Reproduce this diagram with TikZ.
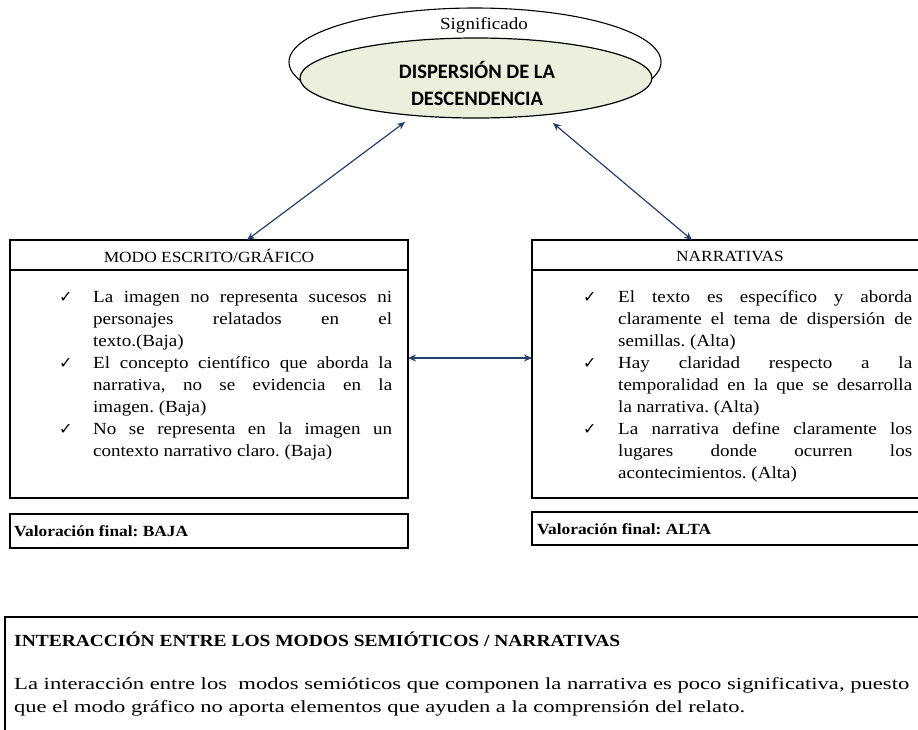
\documentclass[tikz,border=0pt]{standalone}
\usepackage{fontspec}
\setmainfont{Liberation Serif}[FakeStretch=1.12]
\newfontfamily\calib{Carlito}
\newfontfamily\djv{DejaVu Sans}
\usetikzlibrary{arrows.meta,shapes.geometric}
\definecolor{ellfill}{RGB}{234,240,220}
\definecolor{arrowblue}{RGB}{38,64,110}
\newcommand\bodyfont{\frenchspacing\fontsize{17}{22}\selectfont}
\tikzset{
  box/.style={draw=black,line width=1.2pt},
  txt/.style={anchor=base west,inner sep=0pt,font=\bodyfont},
  chk/.style={anchor=base west,inner sep=0pt,font=\djv\fontsize{16}{18}\selectfont},
  arr/.style={arrowblue,line width=1.2pt,{Stealth[length=8pt,width=7pt]}-{Stealth[length=8pt,width=7pt]}},
  hdr/.style={inner sep=0pt,font=\fontsize{15.5}{18}\selectfont},
  val/.style={anchor=base west,inner sep=0pt,font=\frenchspacing\bfseries\fontsize{15.5}{18}\selectfont},
  bot/.style={anchor=base west,inner sep=0pt,font=\frenchspacing\fontsize{17}{20}\selectfont},
  bothead/.style={anchor=base west,inner sep=0pt,font=\frenchspacing\bfseries\fontsize{17}{20}\selectfont},
}
\begin{document}
\begin{tikzpicture}[x=1pt,y=-1pt]
\useasboundingbox (0,0) rectangle (918,729);
% ellipses
\node[draw=black,line width=1.1pt,ellipse,minimum width=372pt,minimum height=108pt,inner sep=0pt] (outer) at (475,62) {};
\node[draw=black,line width=1.2pt,fill=ellfill,ellipse,minimum width=352pt,minimum height=80pt,inner sep=0pt] (inner) at (476,78) {};
\node[inner sep=0pt,font=\fontsize{17}{20}\selectfont] (sig) at (484,25) {Significado};
\node[inner sep=0pt,font=\calib\bfseries\fontsize{20.5}{27}\selectfont,align=center] (dis) at (477,83) {DISPERSIÓN DE LA\\DESCENDENCIA};
% boxes
\draw[box] (10,240) rectangle (408,498);
\draw[box] (10,270) -- (408,270);
\draw[box] (532,240) rectangle (930,498);
\draw[box] (532,270) -- (930,270);
\draw[box] (10,514) rectangle (408,548);
\draw[box] (532,512) rectangle (930,545);
\draw[box] (5,617) rectangle (930,740);
\node[hdr] (h1) at (209,256) {MODO ESCRITO/GRÁFICO};
\node[hdr] (h2) at (730,256) {NARRATIVAS};
% named anchors
\coordinate (e1) at (405,122);
\coordinate (b1) at (247,240);
\coordinate (e2) at (553,123);
\coordinate (b2) at (692,240);
\coordinate (m1) at (408,358);
\coordinate (m2) at (532,358);
\draw[arr] (e1) -- (b1);
\draw[arr] (e2) -- (b2);
\draw[arr] (m1) -- (m2);
% left items
\node[chk] (c1) at (59,302) {✓};
\node[chk] (c2) at (59,368) {✓};
\node[chk] (c3) at (59,434) {✓};
\node[txt] (l1) at (93,302) {\makebox[299pt][s]{La imagen no representa sucesos ni}};
\node[txt] (l2) at (93,324) {\makebox[299pt][s]{personajes relatados en el}};
\node[txt] (l3) at (93,346) {texto.(Baja)};
\node[txt] (l4) at (93,368) {\makebox[299pt][s]{El concepto científico que aborda la}};
\node[txt] (l5) at (93,390) {\makebox[299pt][s]{narrativa, no se evidencia en la}};
\node[txt] (l6) at (93,412) {imagen. (Baja)};
\node[txt] (l7) at (93,434) {\makebox[299pt][s]{No se representa en la imagen un}};
\node[txt] (l8) at (93,456) {contexto narrativo claro. (Baja)};
% right items
\node[chk] (d1) at (583,302) {✓};
\node[chk] (d2) at (583,368) {✓};
\node[chk] (d3) at (583,434) {✓};
\node[txt] (r1) at (618,302) {\makebox[294pt][s]{El texto es específico y aborda}};
\node[txt] (r2) at (618,324) {\makebox[294pt][s]{claramente el tema de dispersión de}};
\node[txt] (r3) at (618,346) {semillas. (Alta)};
\node[txt] (r4) at (618,368) {\makebox[294pt][s]{Hay claridad respecto a la}};
\node[txt] (r5) at (618,390) {\makebox[294pt][s]{temporalidad en la que se desarrolla}};
\node[txt] (r6) at (618,412) {la narrativa. (Alta)};
\node[txt] (r7) at (618,434) {\makebox[294pt][s]{La narrativa define claramente los}};
\node[txt] (r8) at (618,456) {\makebox[294pt][s]{lugares donde ocurren los}};
\node[txt] (r9) at (618,478) {acontecimientos. (Alta)};
% valuations
\node[val] (v1) at (14,536) {Valoración final: BAJA};
\node[val] (v2) at (537,534) {Valoración final: ALTA};
% bottom
\node[bothead] (it) at (14,646) {\resizebox{606pt}{\height}{INTERACCIÓN ENTRE LOS MODOS SEMIÓTICOS / NARRATIVAS}};
\node[bot] (p1) at (14,689) {\resizebox{895pt}{\height}{La interacción entre los\ \ modos semióticos que componen la narrativa es poco significativa, puesto}};
\node[bot] (p2) at (14,712) {\resizebox{731pt}{\height}{que el modo gráfico no aporta elementos que ayuden a la comprensión del relato.}};
\end{tikzpicture}
\end{document}
